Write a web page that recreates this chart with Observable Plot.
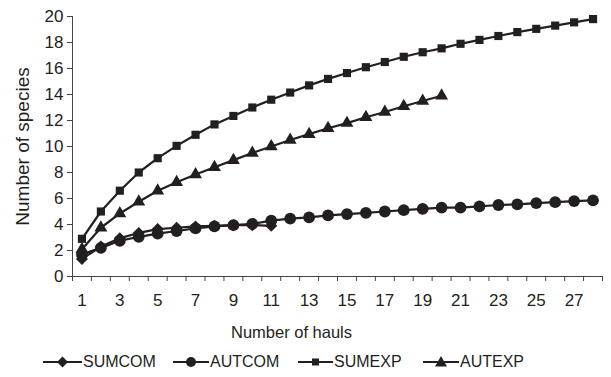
<!DOCTYPE html>
<html>
<head>
<meta charset="utf-8">
<script src="https://cdn.jsdelivr.net/npm/d3@7"></script>
<script src="https://cdn.jsdelivr.net/npm/@observablehq/plot@0.6"></script>
<style>
  body { margin: 0; background: #fff; }
  #wrap { width: 611px; height: 377px; position: relative; font-family: "Liberation Sans", Arial, sans-serif; color: #231f20; }
  #legend { position: relative; height: 32px; font-size: 16px; }
  .item { position: absolute; top: 8px; display: flex; align-items: center; height: 18px; }
  .item svg { display: block; }
</style>
</head>
<body>
<div id="wrap"><div id="chart"></div><div id="legend"></div></div>
<script>
// Categories (number of hauls)
const hauls = [1,2,3,4,5,6,7,8,9,10,11,12,13,14,15,16,17,18,19,20,21,22,23,24,25,26,27,28];
// Series values (number of species)
const sumcom = [1.35,2.3,2.95,3.35,3.65,3.75,3.85,3.9,3.95,3.95,3.9];
const autcom = [1.7,2.2,2.75,3.05,3.3,3.5,3.7,3.85,3.95,4.05,4.3,4.45,4.55,4.7,4.8,4.9,5.0,5.1,5.2,5.3,5.3,5.4,5.5,5.55,5.65,5.72,5.8,5.85];
const sumexp = [2.9,5.0,6.6,8.0,9.1,10.05,10.9,11.7,12.35,13.0,13.6,14.15,14.7,15.2,15.65,16.1,16.5,16.9,17.25,17.55,17.9,18.2,18.5,18.8,19.05,19.3,19.55,19.8];
const autexp = [2.1,3.75,4.85,5.75,6.6,7.25,7.85,8.4,8.95,9.5,10.0,10.5,10.95,11.4,11.8,12.25,12.65,13.1,13.5,13.9];
// Tick labels
const xTickLabels = [1,3,5,7,9,11,13,15,17,19,21,23,25,27];
const yTickLabels = [0,2,4,6,8,10,12,14,16,18,20];
const seriesNames = ["SUMCOM","AUTCOM","SUMEXP","AUTEXP"];

const ink = "#231f20";
const seriesDefs = [
  {name: "SUMCOM", values: sumcom, symbol: "diamond2", r: 5.4},
  {name: "AUTCOM", values: autcom, symbol: "circle", r: 5.9},
  {name: "SUMEXP", values: sumexp, symbol: "square", r: 4.6},
  {name: "AUTEXP", values: autexp, symbol: "triangle", r: 4.8}
];
const rows = seriesDefs.flatMap(s => s.values.map((v, i) => ({series: s.name, haul: hauls[i], species: v})));
const boundaryTicks = [0, ...hauls].map(h => h + 0.5);

const marks = [
  Plot.ruleY([0], {stroke: "#444", strokeWidth: 1}),
  Plot.ruleX([0.5], {stroke: "#444", strokeWidth: 1}),
  Plot.axisY({ticks: yTickLabels, tickSize: 5, tickPadding: 4, fontSize: 17, label: null, stroke: "#444", color: ink}),
  Plot.axisX({ticks: boundaryTicks, tickSize: 5, tickFormat: () => "", label: null, stroke: "#444"}),
  Plot.axisX({ticks: xTickLabels, tickSize: 0, tickPadding: 17, fontSize: 17, label: null, color: ink}),
  Plot.text(["Number of species"], {frameAnchor: "left", textAnchor: "middle", rotate: -90, dx: -50, fontSize: 19, fill: ink}),
  Plot.text(["Number of hauls"], {frameAnchor: "bottom", dx: -46, dy: 61, fontSize: 16.5, fill: ink})
];
for (const s of seriesDefs) {
  const data = rows.filter(d => d.series === s.name);
  marks.push(Plot.line(data, {x: "haul", y: "species", stroke: ink, strokeWidth: 2.2}));
  marks.push(Plot.dot(data, {x: "haul", y: "species", symbol: () => s.symbol, r: s.r, fill: ink, stroke: "none"}));
}

const chart = Plot.plot({
  width: 611,
  height: 345,
  marginLeft: 72,
  marginRight: 9,
  marginTop: 16,
  marginBottom: 69,
  style: {fontFamily: "'Liberation Sans', Arial, sans-serif", fontSize: "16px", color: ink, background: "#fff"},
  x: {domain: [0.5, 28.5], axis: null},
  y: {domain: [0, 20], axis: null},
  symbol: {type: "identity"},
  marks
});
document.getElementById("chart").appendChild(chart);

// Legend
const legendPos = [
  {sym: 43, text: 83}, {sym: 173, text: 210}, {sym: 298, text: 334}, {sym: 423, text: 460}
];
const legendShapes = {
  SUMCOM: (cx, cy) => `<path d="M${cx},${cy-5.5} L${cx+5.5},${cy} L${cx},${cy+5.5} L${cx-5.5},${cy} Z" fill="${ink}"/>`,
  AUTCOM: (cx, cy) => `<circle cx="${cx}" cy="${cy}" r="5" fill="${ink}"/>`,
  SUMEXP: (cx, cy) => `<rect x="${cx-3.5}" y="${cy-3.5}" width="7" height="7" fill="${ink}"/>`,
  AUTEXP: (cx, cy) => `<path d="M${cx},${cy-6} L${cx+6},${cy+4.5} L${cx-6},${cy+4.5} Z" fill="${ink}"/>`
};
const legend = document.getElementById("legend");
seriesNames.forEach((name, i) => {
  const p = legendPos[i];
  const w = p.text - p.sym - 1;
  const item = document.createElement("div");
  item.className = "item";
  item.style.left = p.sym + "px";
  item.innerHTML = `<svg width="${w}" height="14"><line x1="0" x2="${w}" y1="7" y2="7" stroke="${ink}" stroke-width="1.8"/>${legendShapes[name](w/2, 7)}</svg><span style="margin-left:1px">${name}</span>`;
  legend.appendChild(item);
});
</script>
</body>
</html>
